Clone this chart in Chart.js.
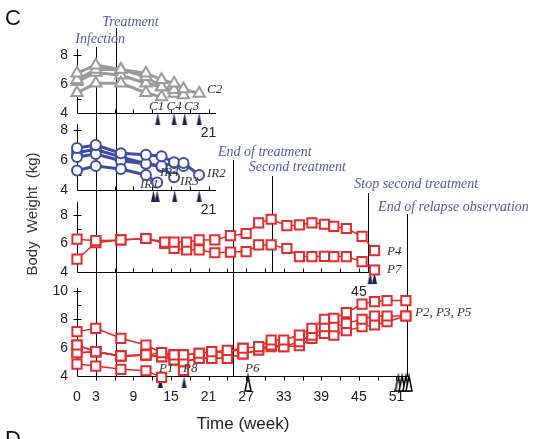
<!DOCTYPE html>
<html>
<head>
<meta charset="utf-8">
<script src="https://cdn.jsdelivr.net/npm/chart.js@4.4.1/dist/chart.umd.min.js"></script>
<style>
  html, body { margin: 0; padding: 0; background: #fff; }
</style>
</head>
<body>
<canvas id="bwChart" width="542" height="439"></canvas>
<script>
// weeks of measurement and body weight (kg)
const weeksC = [0, 3, 7, 11, 13.5, 15.5, 17, 19.5];
const c1 = [5.4, 6.05, 6.05, 5.4, 5.1];
const c2 = [6.75, 7.3, 7.0, 6.75, 6.3, 6.05, 5.65, 5.35];
const c3 = [6.3, 7.0, 7.0, 6.5, 5.8, 5.6, 5.25];
const c4 = [6.15, 6.8, 6.6, 6.05, 5.8, 5.35];

const weeksIR = [0, 3, 7, 11, 13.5, 15.5, 17, 19.5];
const weeksIR1 = [0, 3, 7, 11, 12.8];
const ir1 = [5.3, 5.6, 5.4, 5.0, 4.5];
const ir2 = [6.8, 7.0, 6.45, 6.35, 6.25, 5.85, 5.8, 5.0];
const ir3 = [6.2, 6.4, 5.95, 5.75, 5.6, 5.8, 5.6];
const ir4 = [6.5, 6.7, 6.2, 5.75, 5.55, 4.85];

const weeksP47 = [0, 3, 7, 11, 14, 15.5, 17.5, 19.5, 22, 24.5, 27, 29, 31, 33.5, 35.5, 37.5, 39.5, 41, 43, 45.5, 47.5];
const p4 = [6.3, 6.2, 6.25, 6.35, 6.1, 6.1, 6.1, 6.25, 6.25, 6.55, 6.7, 7.45, 7.7, 7.25, 7.3, 7.45, 7.35, 7.2, 7.05, 6.5, 5.5];
const p7 = [4.9, 6.05, 6.25, 6.35, 6.0, 5.65, 5.55, 5.55, 5.35, 5.4, 5.43, 5.9, 5.9, 5.65, 5.08, 5.08, 5.1, 5.08, 5.08, 4.73, 4.14];

const weeksP = [0, 3, 7, 11, 13.5, 15.5, 17, 19.5, 21.5, 24, 26.5, 29, 31, 33, 35.5, 37.5, 39.5, 41, 43, 45.5, 47.5, 49.5, 52.5];
const p2 = [7.12, 7.35, 6.65, 6.18, 5.64, 5.48, 5.48, 5.6, 5.71, 5.8, 5.95, 6.06, 6.53, 6.53, 6.88, 7.35, 7.99, 8.06, 8.45, 9.06, 9.23, 9.3, 9.3];
const p3 = [6.18, 5.71, 5.41, 5.48, 5.36, 5.13, 5.0, 5.24, 5.24, 5.24, 5.55, 5.83, 6.18, 6.06, 6.41, 6.88, 7.47, 7.47, 7.7, 7.99, 8.22, 8.22, 8.22];
const p5 = [5.64, 5.71, 5.41, 5.48, 5.36, 5.48, 5.0, 5.24, 5.24, 5.24, 5.55, 5.83, 6.06, 6.06, 6.13, 6.65, 7.0, 6.88, 7.19, 7.47, 7.59, 7.82, 8.22];
const p6 = [6.18, 5.71, 5.41, 5.48, 5.64, 5.48, 5.48, 5.6, 5.71, 5.64, 5.95];
const p8 = [5.64, 5.71, 5.41, 5.48, 5.36, 5.13, 4.4];
const p1 = [4.84, 4.7, 4.47, 4.37, 3.9];

// weeks where an animal left the study (arrows)
const endsC = [12.9, 15.5, 17.2, 19.5];
const endsIR = [12.2, 12.8, 15.6, 19.5];
const endsP47 = [46.8, 47.5];
const endsPFilled = [13.3, 17.1];
const endsPHollow = [27.3, 51.3, 51.9, 52.5, 53.0];

const xTickLabels = [0, 3, 9, 15, 21, 27, 33, 39, 45, 51];
const yTicksSmall = ['4', '6', '8'];
const yTicksBottom = ['4', '6', '8', '10'];
const eventWeeks = [3, 6.2, 24.9, 31.1, 46.5, 52.7];
const eventNames = ['Infection', 'Treatment', 'End of treatment', 'Second treatment', 'Stop second treatment', 'End of relapse observation'];

const GRAY = '#9a9a9a', BLUE = '#3f4ca6', RED = '#e52b2b', NAVY = '#1c2052';

function pts(weeks, vals) {
    return vals.map((v, i) => ({ x: weeks[i], y: v }));
}

function arrowImg(w, h, fill, stroke) {
    // tip sits at the centre of the image, so it lands on the axis line
    const c = document.createElement('canvas');
    c.width = w; c.height = h * 2;
    const g = c.getContext('2d');
    g.beginPath();
    g.moveTo(w / 2, h);
    g.lineTo(w - 1, h * 2 - 1);
    g.lineTo(1, h * 2 - 1);
    g.closePath();
    g.fillStyle = fill;
    g.fill();
    if (stroke) { g.strokeStyle = stroke; g.lineWidth = 1.5; g.stroke(); }
    return c;
}
const filledArrow = arrowImg(7, 13, NAVY);
const hollowArrow = arrowImg(8, 16, '#fff', '#000');

function series(data, yAxisID, kind) {
    const s = {
        C: { color: GRAY, style: 'triangle', r: 6.5, lw: 3 },
        IR: { color: BLUE, style: 'circle', r: 5, lw: 3 },
        P: { color: RED, style: 'rect', r: 6.5, lw: 1.5 }
    }[kind];
    return {
        data: data, yAxisID: yAxisID, showLine: true,
        borderColor: s.color, borderWidth: s.lw,
        pointStyle: s.style, pointRadius: s.r,
        pointBorderColor: s.color, pointBackgroundColor: '#fff', pointBorderWidth: 2,
        clip: false
    };
}

function arrows(weeks, yAxisID, img) {
    return {
        data: weeks.map(w => ({ x: w, y: 4 })), yAxisID: yAxisID, showLine: false,
        pointStyle: img, pointRadius: 6, clip: false
    };
}

const datasets = [
    series(pts(weeksC, c1), 'yC', 'C'),
    series(pts(weeksC, c2), 'yC', 'C'),
    series(pts(weeksC, c3), 'yC', 'C'),
    series(pts(weeksC, c4), 'yC', 'C'),
    series(pts(weeksIR1, ir1), 'yIR', 'IR'),
    series(pts(weeksIR, ir2), 'yIR', 'IR'),
    series(pts(weeksIR, ir3), 'yIR', 'IR'),
    series(pts(weeksIR, ir4), 'yIR', 'IR'),
    series(pts(weeksP47, p4), 'yP1', 'P'),
    series(pts(weeksP47, p7), 'yP1', 'P'),
    series(pts(weeksP, p2), 'yP2', 'P'),
    series(pts(weeksP, p3), 'yP2', 'P'),
    series(pts(weeksP, p5), 'yP2', 'P'),
    series(pts(weeksP, p6), 'yP2', 'P'),
    series(pts(weeksP, p8), 'yP2', 'P'),
    series(pts(weeksP, p1), 'yP2', 'P'),
    arrows(endsC, 'yC', filledArrow),
    arrows(endsIR, 'yIR', filledArrow),
    arrows(endsP47, 'yP1', filledArrow),
    arrows(endsPFilled, 'yP2', filledArrow),
    arrows(endsPHollow, 'yP2', hollowArrow)
];

const panels = [
    { id: 'yC', top: 8.4, end: 22.2, dir: -1, ticks: yTicksSmall },
    { id: 'yIR', top: 8.4, end: 22.2, dir: -1, ticks: yTicksSmall },
    { id: 'yP1', top: 8.9, end: 47.3, dir: -1, ticks: yTicksSmall },
    { id: 'yP2', top: 10.2, end: 53, dir: 1, ticks: yTicksBottom }
];

// panel axes, event lines and the text notes
const panelPlugin = {
    id: 'panelPlugin',
    beforeDatasetsDraw(chart) {
        const ctx = chart.ctx, x = chart.scales.x;
        const x0 = Math.round(x.getPixelForValue(0)) + 0.5;
        ctx.save();
        ctx.strokeStyle = '#000';
        ctx.lineWidth = 1;
        ctx.beginPath();
        panels.forEach(p => {
            const y = chart.scales[p.id];
            const yb = Math.round(y.getPixelForValue(4)) + 0.5;
            ctx.moveTo(x0, yb);
            ctx.lineTo(x0, y.getPixelForValue(p.top));
            ctx.moveTo(x0, yb);
            ctx.lineTo(x.getPixelForValue(p.end), yb);
            for (let w = 3; w <= p.end; w += 3) {
                const px = Math.round(x.getPixelForValue(w)) + 0.5;
                ctx.moveTo(px, yb);
                ctx.lineTo(px, yb + p.dir * 4);
            }
            for (let v = 5; v <= p.top; v++) {
                const py = Math.round(y.getPixelForValue(v)) + 0.5;
                ctx.moveTo(x0 - (v % 2 === 0 ? 4 : 0), py);
                ctx.lineTo(x0 + 4, py);
            }
        });
        ctx.stroke();

        // vertical event lines
        const yb4 = chart.scales.yP2.getPixelForValue(4);
        const yb3 = chart.scales.yP1.getPixelForValue(4);
        const tops = [47, 28, 160, 176, 193, 214];
        const bottoms = [yb4, yb4, yb4, yb3, yb3, yb4];
        ctx.beginPath();
        eventWeeks.forEach((w, i) => {
            const px = Math.round(x.getPixelForValue(w)) + 0.5;
            ctx.moveTo(px, tops[i]);
            ctx.lineTo(px, bottoms[i]);
        });
        ctx.stroke();
        ctx.restore();
    },
    afterDraw(chart) {
        const ctx = chart.ctx, x = chart.scales.x;
        const xl = Math.round(x.getPixelForValue(0)) - 9;
        ctx.save();
        ctx.textBaseline = 'middle';

        // y tick labels of every panel
        ctx.fillStyle = '#222';
        ctx.font = '14px "Liberation Sans"';
        ctx.textAlign = 'right';
        for (const p of panels) {
            const ys = chart.scales[p.id];
            for (const t of p.ticks) {
                ctx.fillText(t, xl, Math.round(ys.getPixelForValue(Number(t))));
            }
        }

        // end-of-axis week labels on the upper panels
        ctx.textAlign = 'center';
        [['yC', 21], ['yIR', 21], ['yP1', 45]].forEach(a => {
            ctx.fillText(String(a[1]), x.getPixelForValue(a[1]), chart.scales[a[0]].getPixelForValue(4) + 20);
        });
        ctx.textAlign = 'left';

        // event names
        ctx.fillStyle = '#5656a3';
        ctx.font = 'italic 14px "Liberation Serif"';
        const offs = [[-20.5, 39], [-13.5, 22.5], [-15, 152], [-23, 167], [-14, 184], [-29, 207]];
        eventNames.forEach((t, i) => {
            ctx.fillText(t, x.getPixelForValue(eventWeeks[i]) + offs[i][0], offs[i][1]);
        });

        // animal labels
        ctx.fillStyle = '#333';
        ctx.font = 'italic 13px "Liberation Serif"';
        [['C1', 149, 106.5], ['C4', 166.5, 106.5], ['C3', 184, 106.5], ['C2', 207, 90],
         ['IR1', 140, 185], ['IR4', 160, 173], ['IR3', 180, 182], ['IR2', 207, 174],
         ['P4', 387, 252], ['P7', 387, 270], ['P2, P3, P5', 415, 313],
         ['P1', 159, 369], ['P8', 183, 369], ['P6', 245, 369]
        ].forEach(n => ctx.fillText(n[0], n[1], n[2]));

        // y title and panel letters
        ctx.save();
        ctx.translate(33, 214);
        ctx.rotate(-Math.PI / 2);
        ctx.textAlign = 'center';
        ctx.font = '15px "Liberation Sans"';
        ctx.fillStyle = '#333';
        ctx.fillText('Body  Weight  (kg)', 0, 0);
        ctx.restore();

        ctx.font = '22px "Liberation Sans"';
        ctx.fillStyle = '#111';
        ctx.fillText('C', 5, 19);
        ctx.textBaseline = 'top';
        ctx.fillText('D', 5, 429);
        ctx.restore();
    }
};

function yAxis(min, max, weight) {
    return {
        type: 'linear', position: 'left', stack: 'bw', stackWeight: weight,
        min: min, max: max,
        grid: { display: false, drawTicks: false },
        border: { display: false },
        ticks: { display: false },
        afterFit: axis => { axis.width = 77; }
    };
}

new Chart(document.getElementById('bwChart').getContext('2d'), {
    type: 'scatter',
    data: { datasets: datasets },
    options: {
        responsive: false,
        animation: false,
        layout: { padding: { top: 45, right: 133, left: 0, bottom: 0 } },
        plugins: { legend: { display: false }, tooltip: { enabled: false } },
        scales: {
            x: {
                type: 'linear', position: 'bottom', min: 0, max: 53,
                grid: { display: false, drawTicks: false },
                border: { display: false },
                ticks: { font: { size: 14, family: 'Liberation Sans' }, color: '#222', padding: 13, autoSkip: false, maxRotation: 0 },
                afterBuildTicks: axis => { axis.ticks = xTickLabels.map(v => ({ value: v })); },
                title: { display: true, text: 'Time (week)', font: { size: 17, family: 'Liberation Sans' }, color: '#222', padding: { top: 4, bottom: 4 } },
                afterFit: axis => { axis.height = 63; }
            },
            // stacked left axes are placed bottom-up in definition order
            yP2: yAxis(4, 10.75, 96),
            yP1: yAxis(3.44, 9.26, 83),
            yIR: yAxis(3.53, 8.67, 77),
            yC: yAxis(3.52, 8.69, 75)
        }
    },
    plugins: [panelPlugin]
});
</script>
</body>
</html>
